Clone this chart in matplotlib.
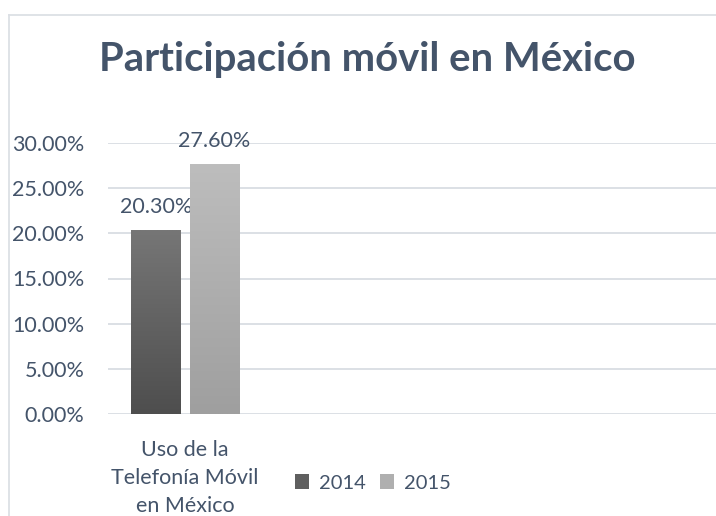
import matplotlib.pyplot as plt
import numpy as np
from matplotlib.lines import Line2D
from matplotlib.patches import Patch

plt.rcParams['font.family'] = ['Lato', 'DejaVu Sans']

title = "Participación móvil en México"
categories = ["Uso de la\nTelefonía Móvil\nen México"]
series_names = ["2014", "2015"]
values_2014 = [0.203]
values_2015 = [0.276]
yticks = [0.0, 0.05, 0.10, 0.15, 0.20, 0.25, 0.30]

text_col = '#44546A'
grid_col = '#D9DDE3'
# (top, bottom) colours of the gradient fill
grads = [('#767676', '#4E4E4E'), ('#BDBDBD', '#9F9F9F')]
solid = ['#5F5F5F', '#AFAFAF']

fig = plt.figure(figsize=(7.16, 5.16), dpi=100)
ax = fig.add_axes([108/716, 1-414/516, 1-108/716, (414-143)/516])

x = np.arange(len(categories))
width = 0.32
offsets = [-0.19, 0.19]
for vals, off, (ctop, cbot) in zip([values_2014, values_2015], offsets, grads):
    bars = ax.bar(x + off, vals, width, color='none', zorder=3)
    for b in bars:
        x0, y0 = b.get_x(), b.get_y()
        w, h = b.get_width(), b.get_height()
        top = np.array([int(ctop[i:i+2], 16) for i in (1, 3, 5)]) / 255
        bot = np.array([int(cbot[i:i+2], 16) for i in (1, 3, 5)]) / 255
        t = np.linspace(0, 1, 100)[:, None]
        img = (top * (1 - t) + bot * t)[:, None, :]
        ax.imshow(img, extent=[x0, x0 + w, y0, y0 + h], aspect='auto', zorder=3,
                  interpolation='bilinear')
        ax.annotate(f"{h*100:.2f}%", (x0 + w/2, h), xytext=(0, 10),
                    textcoords='offset points', ha='center', va='bottom',
                    fontsize=15.5, color=text_col, annotation_clip=False)

ax.set_xlim(-0.5, 3.45)
ax.set_ylim(0, 0.30)
ax.set_yticks(yticks)
ax.set_yticklabels([f"{v*100:.2f}%" for v in yticks])
ax.set_xticks(x)
ax.set_xticklabels(categories, linespacing=1.5)
ax.tick_params(axis='both', length=0, labelsize=15.5, labelcolor=text_col)
ax.tick_params(axis='y', pad=17)
ax.tick_params(axis='x', pad=19)
ax.grid(axis='y', color=grid_col, linewidth=1.3, zorder=0)
ax.set_axisbelow(True)
for s in ax.spines.values():
    s.set_visible(False)

fig.text(367/716, 1 - 60/516, title, ha='center', va='center',
         fontsize=28.8, fontweight='bold', color=text_col)

# chart area border
fig.add_artist(Line2D([9/716, 9/716], [0, 1 - 15/516], color='#DCE0E5', lw=1.3))
fig.add_artist(Line2D([9/716, 1], [1 - 15/516, 1 - 15/516], color='#DCE0E5', lw=1.3))

handles = [Patch(facecolor=c, edgecolor='none') for c in solid]
fig.legend(handles, series_names, loc='center', bbox_to_anchor=(373/716, 1 - 483/516),
           ncol=2, frameon=False, fontsize=14.5, labelcolor=text_col,
           handlelength=0.7, handleheight=0.7, handletextpad=0.5, columnspacing=0.7)

fig.savefig('out.png', dpi=100)
